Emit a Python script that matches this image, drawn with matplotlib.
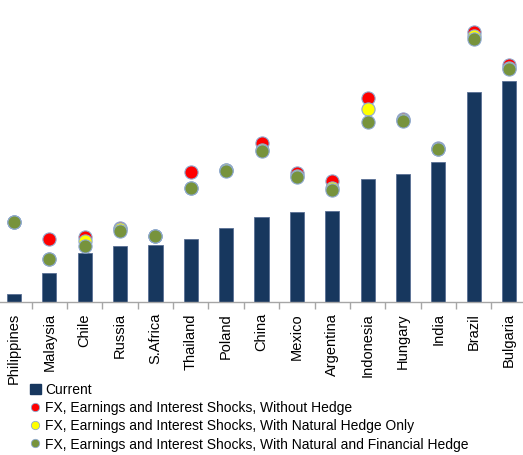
import numpy as np
import matplotlib
matplotlib.use("Agg")
import matplotlib.pyplot as plt
from matplotlib.lines import Line2D
from matplotlib.patches import Patch

# data (arbitrary units)
countries = ["Philippines", "Malaysia", "Chile", "Russia", "S.Africa", "Thailand",
             "Poland", "China", "Mexico", "Argentina", "Indonesia", "Hungary",
             "India", "Brazil", "Bulgaria"]
current = [8, 29, 49, 56, 57, 63, 74, 85, 90, 91, 123, 128, 140, 210, 221]
no_hedge = [80, 63, 65, 74, 66, 130, 132, 159, 129, 121, 204, 183, 154, 270, 237]
natural_hedge = [80, 43, 61, 73, 66, 114, 132, 152, 126, 114, 193, 182, 153, 266, 234]
full_hedge = [80, 43, 56, 71, 66, 114, 131, 151, 125, 112, 180, 181, 153, 263, 233]

bar_color = "#17375E"
red = "#FF0000"
yellow = "#FFFF00"
green = "#77933C"
edge = "#8EA9CF"

plt.rcParams["font.family"] = ["Liberation Sans", "DejaVu Sans"]

fig = plt.figure(figsize=(5.23, 4.55), dpi=100)
ax = fig.add_axes([0, 0.3363, 1, 0.6637])

x = np.arange(len(countries))
ax.bar(x, current, width=0.4, color=bar_color, edgecolor="#5A7094", linewidth=0.6, zorder=2)
ax.plot(x, no_hedge, "o", ls="none", ms=9.5, mfc=red, mec=edge, mew=0.8, zorder=3)
ax.plot(x, natural_hedge, "o", ls="none", ms=9.5, mfc=yellow, mec=edge, mew=0.8, zorder=4)
ax.plot(x, full_hedge, "o", ls="none", ms=9.5, mfc=green, mec=edge, mew=0.8, zorder=5)

ax.set_xlim(-0.396, 14.394)
ax.set_ylim(0, 302)
ax.set_yticks([])
for s in ["top", "right", "left"]:
    ax.spines[s].set_visible(False)
ax.spines["bottom"].set_color("#A6A6A6")
ax.spines["bottom"].set_linewidth(1)

ax.set_xticks(x)
ax.set_xticklabels(countries, rotation=90, fontsize=10.5, va="top")
ax.tick_params(axis="x", which="major", length=0, pad=8)
ax.set_xticks(np.arange(0.5, len(countries) - 1, 1), minor=True)
ax.tick_params(axis="x", which="minor", length=5, color="#A6A6A6", width=1)

handles = [
    Patch(facecolor=bar_color, edgecolor=bar_color),
    Line2D([], [], marker="o", ls="none", ms=6, mfc=red, mec=edge, mew=0.6),
    Line2D([], [], marker="o", ls="none", ms=6, mfc=yellow, mec=edge, mew=0.6),
    Line2D([], [], marker="o", ls="none", ms=6, mfc=green, mec=edge, mew=0.6),
]
labels = ["Current",
          "FX, Earnings and Interest Shocks, Without Hedge",
          "FX, Earnings and Interest Shocks, With Natural Hedge Only",
          "FX, Earnings and Interest Shocks, With Natural and Financial Hedge"]
fig.legend(handles, labels, loc="upper left", bbox_to_anchor=(0.057, 1 - 383 / 455),
           frameon=False, fontsize=10, handlelength=0.8, handleheight=0.8,
           handletextpad=0.3, labelspacing=0.3, borderaxespad=0, borderpad=0)

fig.savefig("out.png", dpi=100)
